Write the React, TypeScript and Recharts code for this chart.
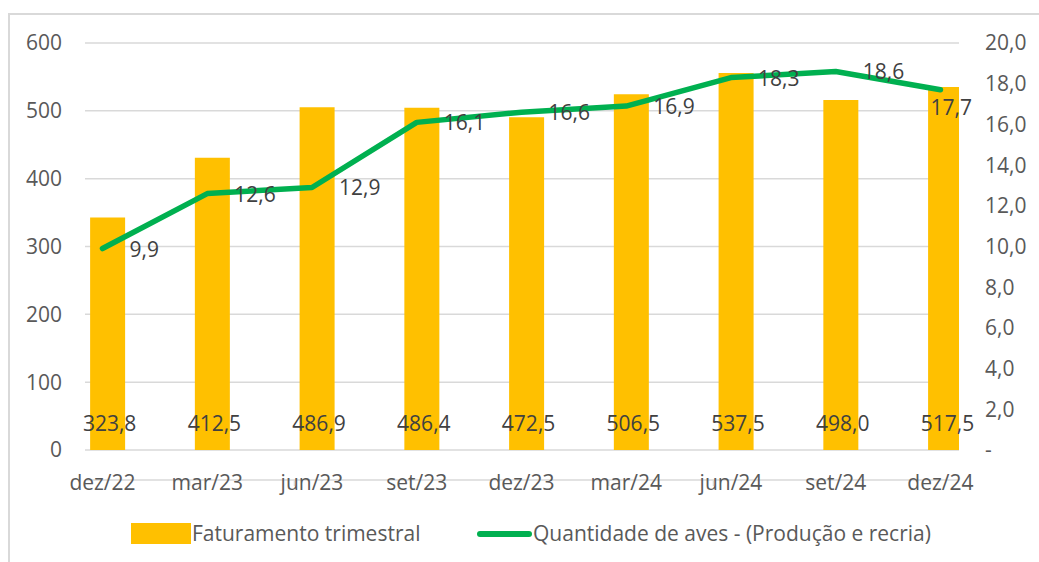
import React from 'react'
import { Bar, CartesianGrid, ComposedChart, LabelList, Line, XAxis, YAxis } from 'recharts'

// Quarterly revenue (bars, left axis) vs. bird count (line, right axis).

const categories = ['dez/22', 'mar/23', 'jun/23', 'set/23', 'dez/23', 'mar/24', 'jun/24', 'set/24', 'dez/24']
// bar heights as drawn in the picture
const faturamentoBarras = [342.7, 431.0, 505.2, 504.7, 490.4, 524.3, 555.7, 516.0, 535.0]
// values printed at the base of each bar
const faturamentoRotulos = [323.8, 412.5, 486.9, 486.4, 472.5, 506.5, 537.5, 498.0, 517.5]
const aves = [9.9, 12.6, 12.9, 16.1, 16.6, 16.9, 18.3, 18.6, 17.7]

const leftTicks = [0, 100, 200, 300, 400, 500, 600]
const rightTicks = [0, 2, 4, 6, 8, 10, 12, 14, 16, 18, 20]

const seriesNames = ['Faturamento trimestral', 'Quantidade de aves - (Produção e recria)']

const YELLOW = '#FFC000'
const GREEN = '#00B050'
const GRID = '#d9d9d9'
const AXIS_TEXT = '#595959'
const LABEL_TEXT = '#404040'
const FONT = '"Open Sans", sans-serif'

const data = categories.map((c, i) => ({
  i,
  cat: c,
  fat: faturamentoBarras[i],
  fatLabel: faturamentoRotulos[i],
  aves: aves[i],
}))

const fmt = (v: number) => v.toFixed(1).replace('.', ',')

// category boundary ticks sit a sixth of a slot left of the category point
const SHIFT = 0.167
const xDomain: [number, number] = [-SHIFT, 8.177]
const barShift = 0.0477
const barDomain: [number, number] = [xDomain[0] - barShift, xDomain[1] - barShift]
const boundaryTicks = categories.map((_, i) => i - SHIFT)

const XTick = (props: any) => {
  const { x, y, index } = props
  return (
    <text x={x + 17.5} y={y - 27} dy="0.71em" textAnchor="middle" fill={AXIS_TEXT} fontSize={21} fontFamily={FONT}>
      {categories[index]}
    </text>
  )
}

const BarLabel = (props: any) => {
  const { x, y, width, height, value } = props
  return (
    <text
      x={x + width / 2 + 2}
      y={y + height - 27}
      dominantBaseline="central"
      textAnchor="middle"
      fill={LABEL_TEXT}
      fontSize={21}
      fontFamily={FONT}
    >
      {fmt(value)}
    </text>
  )
}

const LineLabel = (props: any) => {
  const { x, y, value, index } = props
  const last = index === aves.length - 1
  return (
    <text
      x={last ? x - 10 : x + 27}
      y={last ? y + 17 : y}
      dominantBaseline="central"
      textAnchor="start"
      fill={LABEL_TEXT}
      fontSize={21}
      fontFamily={FONT}
    >
      {fmt(value)}
    </text>
  )
}

export default function App() {
  return (
    <div style={{ position: 'absolute', left: 0, top: 0, width: 1039, height: 562, background: '#fff', overflow: 'hidden' }}>
      <div
        style={{
          position: 'absolute',
          left: 8,
          top: 13,
          width: 1100,
          height: 600,
          borderTop: `2px solid ${GRID}`,
          borderLeft: `2px solid ${GRID}`,
        }}
      />
      <div style={{ position: 'absolute', left: 0, top: 0 }}>
        <ComposedChart width={1039} height={562} data={data} margin={{ top: 43, right: 0, bottom: 0, left: 0 }}>
          <CartesianGrid yAxisId="l" xAxisId="x" stroke={GRID} strokeWidth={1.5} vertical={false} />
          <XAxis
            xAxisId="x"
            type="number"
            dataKey="i"
            domain={xDomain}
            ticks={boundaryTicks}
            interval={0}
            height={112}
            axisLine={{ stroke: GRID, strokeWidth: 1.5 }}
            tickLine={{ stroke: GRID, strokeWidth: 1.5 }}
            tickSize={6}
            tickMargin={16}
            tick={<XTick />}
            allowDataOverflow
          />
          <XAxis xAxisId="b" type="number" dataKey="i" domain={barDomain} hide allowDataOverflow />
          <YAxis
            yAxisId="l"
            orientation="left"
            domain={[0, 600]}
            ticks={leftTicks}
            width={85}
            axisLine={false}
            tickLine={false}
            tickSize={0}
            tickMargin={23}
            tick={{ fill: AXIS_TEXT, fontSize: 21, fontFamily: FONT }}
          />
          <YAxis
            yAxisId="r"
            orientation="right"
            domain={[0, 20]}
            ticks={rightTicks}
            width={80}
            axisLine={false}
            tickLine={false}
            tickSize={0}
            tickMargin={26}
            tickFormatter={(v: number) => (v === 0 ? '-' : fmt(v))}
            tick={{ fill: AXIS_TEXT, fontSize: 21, fontFamily: FONT, textAnchor: 'start' }}
          />
          <Bar xAxisId="b" yAxisId="l" dataKey="fat" fill={YELLOW} barSize={35} isAnimationActive={false}>
            <LabelList dataKey="fatLabel" content={<BarLabel />} />
          </Bar>
          <Line
            xAxisId="x"
            yAxisId="r"
            dataKey="aves"
            stroke={GREEN}
            strokeWidth={5.5}
            strokeLinecap="round"
            strokeLinejoin="round"
            dot={false}
            activeDot={false}
            isAnimationActive={false}
          >
            <LabelList dataKey="aves" content={<LineLabel />} />
          </Line>
        </ComposedChart>
      </div>
      {/* legend */}
      <div style={{ position: 'absolute', left: 131, top: 523, width: 60, height: 21, background: YELLOW }} />
      <div
        style={{
          position: 'absolute',
          left: 192,
          top: 518,
          lineHeight: '31px',
          fontSize: 21,
          fontFamily: FONT,
          color: AXIS_TEXT,
          whiteSpace: 'nowrap',
        }}
      >
        {seriesNames[0]}
      </div>
      <div
        style={{
          position: 'absolute',
          left: 477,
          top: 531,
          width: 55,
          height: 5.5,
          borderRadius: 3,
          background: GREEN,
        }}
      />
      <div
        style={{
          position: 'absolute',
          left: 533,
          top: 518,
          lineHeight: '31px',
          fontSize: 21,
          fontFamily: FONT,
          color: AXIS_TEXT,
          whiteSpace: 'nowrap',
        }}
      >
        {seriesNames[1]}
      </div>
    </div>
  )
}
